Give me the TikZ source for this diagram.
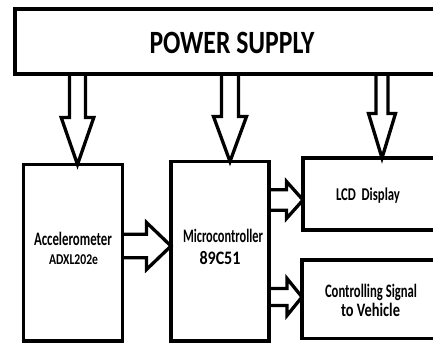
\documentclass[tikz,border=0pt]{standalone}
\usepackage{fontspec}
\setmainfont{Carlito}
\usetikzlibrary{calc}
\newsavebox\fitbox
\newlength\fitlen
\newcommand\fitw[3]{{\fontsize{#2}{#2}\selectfont\bfseries\sbox\fitbox{#3}\setlength\fitlen{\wd\fitbox}\pgfmathsetmacro\fitx{#1pt/\fitlen}\scalebox{\fitx}[1]{\usebox\fitbox}}}
\newcommand\downblk[6]{\draw[blk] let \p1=(#1 |- #2.south), \p2=(#1 |- #3.north) in
  (\x1-#4pt,\y1) -- (\x1-#4pt,\y2+#6pt) -- (\x1-#5pt,\y2+#6pt) -- (\p2) --
  (\x1+#5pt,\y2+#6pt) -- (\x1+#4pt,\y2+#6pt) -- (\x1+#4pt,\y1);}
\newcommand\rightblk[6]{\draw[blk] let \p1=(#2.east |- #1), \p2=(#3.west |- #1) in
  (\x1,\y1+#4pt) -- (\x2-#6pt,\y1+#4pt) -- (\x2-#6pt,\y1+#5pt) -- (\p2) --
  (\x2-#6pt,\y1-#5pt) -- (\x2-#6pt,\y1-#4pt) -- (\x1,\y1-#4pt);}
\tikzset{
  box/.style={draw=black, line width=3.6pt, rectangle, inner sep=0pt, outer sep=0pt},
  blk/.style={draw=black, line width=3.3pt, line join=miter, miter limit=20},
  txt/.style={inner sep=0pt, outer sep=0pt, anchor=base, text=black}
}
\begin{document}
\begin{tikzpicture}[x=1pt,y=-1pt]
\useasboundingbox (0,0) rectangle (433,343);
\fill[white] (0,0) rectangle (433,343);
\clip (0,0) rectangle (433,343);
% boxes
\node[box, minimum width=445pt, minimum height=65.3pt] (ps) at (237.5,41.35) {};
\node[box, minimum width=99.2pt, minimum height=176.5pt] (acc) at (72.9,252.75) {};
\node[box, minimum width=98pt, minimum height=179.5pt] (mcu) at (220,251.25) {};
\node[box, minimum width=157pt, minimum height=72pt] (lcd) at (381.5,194) {};
\node[box, minimum width=158pt, minimum height=78.5pt] (ctl) at (381,299.25) {};
% texts
\node[txt] (pst) at (232,53) {\fitw{165}{32.5}{POWER SUPPLY}};
\node[txt] (acct1) at (73,245.5) {\fitw{78}{19}{Accelerometer}};
\node[txt] (acct2) at (73.5,264.5) {\fitw{49}{15}{ADXL202e}};
\node[txt] (mcut1) at (223,242.5) {\fitw{80}{19}{Microcontroller}};
\node[txt] (mcut2) at (220,264.5) {\fitw{41}{19}{89C51}};
\node[txt] (lcdt) at (368,200.5) {\fitw{64}{18}{LCD~~Display}};
\node[txt] (ctlt1) at (371,297.5) {\fitw{92}{19}{Controlling Signal}};
\node[txt] (ctlt2) at (370.5,316.5) {\fitw{59}{19}{to Vehicle}};
% arrow axes
\coordinate (d1) at (77.5,0);
\coordinate (d2) at (230,0);
\coordinate (d3) at (382,0);
\coordinate (h1) at (0,246);
\coordinate (h2) at (0,200);
\coordinate (h3) at (0,297);
% block arrows
\downblk{d1}{ps}{acc}{8}{16.3}{47}
\downblk{d2}{ps}{mcu}{8.5}{16.5}{45}
\downblk{d3}{ps}{lcd}{6}{13.5}{44.5}
\rightblk{h1}{acc}{mcu}{11.8}{23.5}{24.5}
\rightblk{h2}{mcu}{lcd}{10.3}{18.5}{16.5}
\rightblk{h3}{mcu}{ctl}{8.5}{18.5}{15}
\end{tikzpicture}
\end{document}
